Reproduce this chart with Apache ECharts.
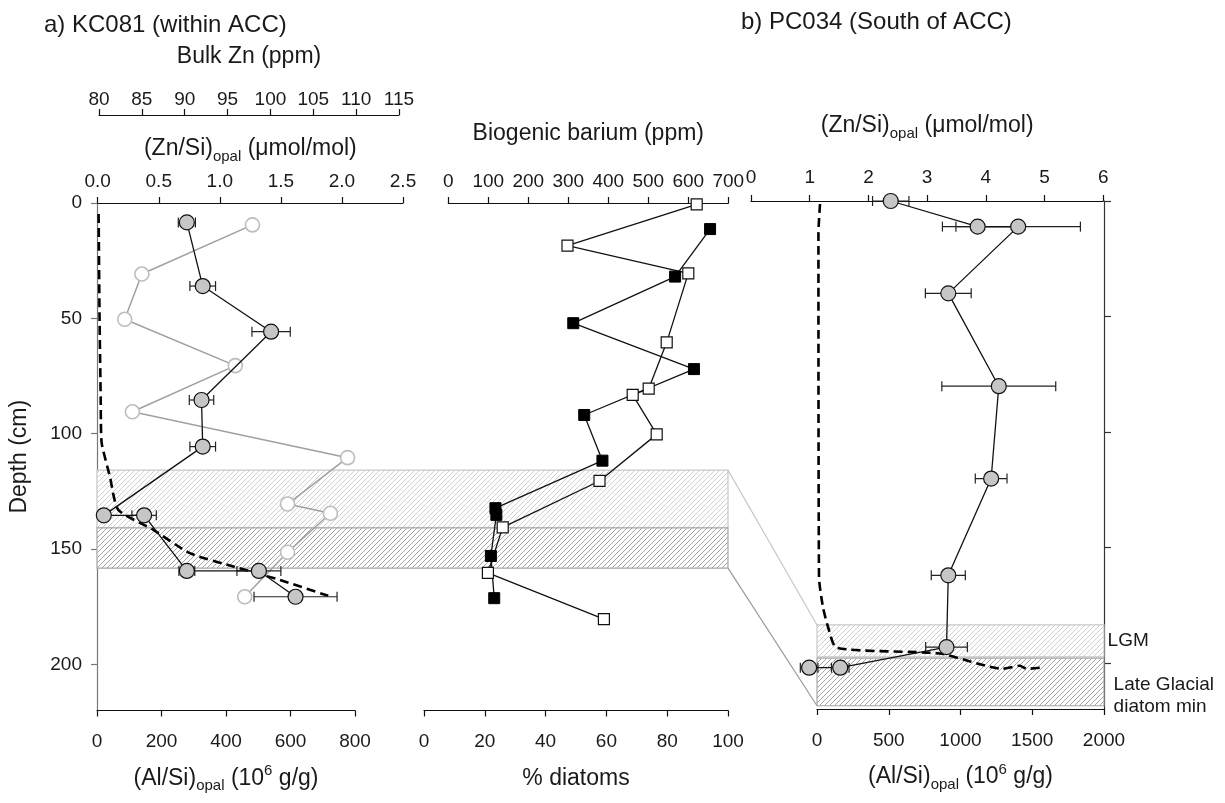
<!DOCTYPE html>
<html><head><meta charset="utf-8">
<script src="https://cdn.jsdelivr.net/npm/echarts@6/dist/echarts.min.js"></script>
<style>html,body{margin:0;padding:0;background:#fff}#c{width:1225px;height:803px}</style>
</head><body><div id="c"></div><script>
// ---------------- DATA ----------------
// a) KC081 (within ACC)
const kcZnSiDepth = [8.4, 36, 55.8, 85.4, 105.6, 135.4, 135.4, 159.5, 159.5, 170.7];
const kcZnSi      = [0.73, 0.86, 1.42, 0.85, 0.86, 0.05, 0.38, 0.73, 1.32, 1.62];
const kcZnSiErr   = [0.07, 0.105, 0.157, 0.1, 0.105, 0.03, 0.1, 0.065, 0.18, 0.34];

const kcBulkZnDepth = [9.5, 30.8, 50.4, 70.5, 90.5, 110.4, 130.5, 134.5, 151.4, 170.7];
const kcBulkZn      = [97.9, 85.0, 83.0, 95.9, 83.9, 109.0, 102.0, 107.0, 102.0, 97.0];

const kcAlSiDepth = [4.8, 50.7, 85.4, 94, 104.2, 118.6, 133, 141.7, 151.8, 157.6, 163.4, 170.3];
const kcAlSi      = [5, 8, 11.5, 12, 14.6, 40, 66, 175, 288, 423, 567, 717];

const kcBaDepth = [0.6, 18.5, 30.5, 60.4, 80.5, 83.2, 100.3, 120.5, 140.6, 160.3, 180.4];
const kcBa      = [621, 298, 600, 546, 501, 461, 521, 378, 136, 99, 389];

const kcDiatomDepth = [11.3, 31.9, 52.1, 72, 91.9, 111.7, 132.3, 135.2, 153, 171.3];
const kcDiatoms     = [94.1, 82.6, 49.1, 88.8, 52.7, 58.7, 23.5, 23.8, 22.0, 23.1];

const kcBands = [[115.8, 140.8], [140.8, 158.3]];

// b) PC034 (South of ACC)
const pcZnSiDepth = [0, 11.1, 11.1, 40, 80.2, 120.2, 162.1, 193.2, 202.1, 202.1];
const pcZnSi      = [2.38, 3.86, 4.55, 3.36, 4.22, 4.09, 3.36, 3.33, 1.52, 0.99];
const pcZnSiErr   = [0.31, 0.6, 1.06, 0.39, 0.97, 0.27, 0.29, 0.355, 0.15, 0.15];

const pcAlSiDepth = [1.3, 13.9, 163, 176, 184.5, 193.5, 196, 202.6, 201.3, 202.6, 202.1];
const pcAlSi      = [21, 10, 14, 42, 77, 137, 857, 1295, 1414, 1462, 1553];

const pcBands = [[183.6, 197.4], [198.0, 218.6]];
const pcBandLabels = ['LGM', 'Late Glacial\ndiatom min'];

// axes: [min, max, interval]
const depthAxis = [0, 220, 50];
const depthTicks = [0, 50, 100, 150, 200];
const kcAlSiAxis = [0, 800, 200];
const kcZnSiAxis = [0, 2.5, 0.5];
const kcBulkZnAxis = [80, 115, 5];
const kcDiatomAxis = [0, 100, 20];
const kcBaAxis = [0, 700, 100];
const pcZnSiAxis = [0, 6, 1];
const pcAlSiAxis = [0, 2000, 500];

// ---------------- STYLE ----------------
const FONT = "'Liberation Sans', Arial, Helvetica, sans-serif";
const TXT = '#1a1a1a';
const TICKFS = 19;
const zip = (xs, ds) => xs.map((v, i) => [v, ds[i]]);
const zipErr = (xs, ds, es) => xs.map((v, i) => [v, ds[i], es[i]]);

function hatch(color) {
  const s = 5, c = document.createElement('canvas');
  c.width = s; c.height = s;
  const g = c.getContext('2d');
  g.fillStyle = '#fff'; g.fillRect(0, 0, s, s);
  g.strokeStyle = color; g.lineWidth = 1;
  g.beginPath();
  g.moveTo(0, s); g.lineTo(s, 0);
  g.moveTo(-s, s); g.lineTo(s, -s);
  g.moveTo(0, 2 * s); g.lineTo(2 * s, 0);
  g.stroke();
  return c;
}
const lightFill = {image: hatch('#cfcfcf'), repeat: 'repeat'};
const darkFill = {image: hatch('#a4a4a4'), repeat: 'repeat'};

const richName = {
  m: {fontSize: 23, fontFamily: FONT, color: TXT, lineHeight: 30},
  s: {fontSize: 15, fontFamily: FONT, color: TXT, lineHeight: 15, verticalAlign: 'bottom'},
  p: {fontSize: 15, fontFamily: FONT, color: TXT, lineHeight: 15, verticalAlign: 'top'}
};
const nameStyle = {fontSize: 23, fontFamily: FONT, color: TXT, lineHeight: 30, rich: richName};
const znSiName = '{m|(Zn/Si)}{s|opal}{m| (μmol/mol)}';
const alSiName = '{m|(Al/Si)}{s|opal}{m| (10}{p|6}{m| g/g)}';

function xAx(gi, pos, r, name, nameGap, margin, extra) {
  return Object.assign({
    gridIndex: gi, type: 'value', position: pos, min: r[0], max: r[1], interval: r[2],
    splitLine: {show: false},
    axisLine: {show: true, onZero: false, lineStyle: {color: '#111', width: 1.2}},
    axisTick: {show: true, length: 6, lineStyle: {color: '#111', width: 1.2}},
    axisLabel: {show: true, margin: margin, color: TXT, fontSize: TICKFS, fontFamily: FONT, formatter: v => String(v)},
    name: name, nameLocation: 'middle', nameGap: nameGap, nameTextStyle: nameStyle
  }, extra || {});
}
function yHidden(gi) {
  return {gridIndex: gi, type: 'value', inverse: true, min: depthAxis[0], max: depthAxis[1], show: false};
}

const grids = [
  {left: 97, top: 203, width: 258, height: 507.5},     // 0 Al/Si KC081
  {left: 97.7, top: 203, width: 305.3, height: 507.5}, // 1 Zn/Si KC081
  {left: 99, top: 203, width: 300, height: 507.5},     // 2 Bulk Zn
  {left: 424, top: 203, width: 304, height: 507.5},    // 3 % diatoms
  {left: 448.3, top: 203, width: 280, height: 507.5},  // 4 Biogenic Ba
  {left: 97, top: 203, width: 631, height: 507.5},     // 5 bands overlay
  {left: 751, top: 201, width: 352.3, height: 508},    // 6 Zn/Si PC034
  {left: 817, top: 201, width: 287, height: 508}       // 7 Al/Si PC034
];

const xAxes = [
  xAx(0, 'bottom', kcAlSiAxis, alSiName, 53, 22),
  xAx(1, 'top', kcZnSiAxis, znSiName, 39, 12, {axisLabel: {show: true, margin: 12, color: TXT, fontSize: TICKFS, fontFamily: FONT, formatter: v => v.toFixed(1)}}),
  xAx(2, 'top', kcBulkZnAxis, 'Bulk Zn (ppm)', 43, 6, {offset: 88}),
  xAx(3, 'bottom', kcDiatomAxis, '% diatoms', 53, 22),
  xAx(4, 'top', kcBaAxis, 'Biogenic barium (ppm)', 54, 12),
  {gridIndex: 5, type: 'value', min: 0, max: 1, show: false},
  xAx(6, 'top', pcZnSiAxis, znSiName, 60, 14),
  xAx(7, 'bottom', pcAlSiAxis, alSiName, 53, 22)
];

const yAxes = grids.map((g, i) => yHidden(i));
yAxes[0] = {
  gridIndex: 0, type: 'value', inverse: true, min: depthAxis[0], max: depthAxis[1], interval: depthAxis[2],
  position: 'left', splitLine: {show: false},
  axisLine: {show: true, onZero: false, lineStyle: {color: '#777', width: 1.2}},
  axisTick: {show: true, length: 6, customValues: depthTicks, lineStyle: {color: '#777', width: 1.2}},
  axisLabel: {show: true, margin: 15, customValues: depthTicks, color: TXT, fontSize: TICKFS, fontFamily: FONT},
  name: 'Depth (cm)', nameLocation: 'middle', nameRotate: 90, nameGap: 66,
  nameTextStyle: {fontSize: 23, fontFamily: FONT, color: TXT}
};
yAxes[7] = {
  gridIndex: 7, type: 'value', inverse: true, min: depthAxis[0], max: depthAxis[1], interval: depthAxis[2],
  position: 'right', splitLine: {show: false},
  axisLine: {show: true, onZero: false, lineStyle: {color: '#333', width: 1.2}},
  axisTick: {show: true, length: 7, customValues: depthTicks, lineStyle: {color: '#333', width: 1.2}},
  axisLabel: {show: false}
};

function errRender(params, api) {
  const x = api.value(0), y = api.value(1), e = api.value(2);
  const a = api.coord([x - e, y]), b = api.coord([x + e, y]);
  const h = 5;
  const st = {stroke: '#222', lineWidth: 1.2, fill: null};
  return {type: 'group', children: [
    {type: 'line', shape: {x1: a[0], y1: a[1], x2: b[0], y2: b[1]}, style: st},
    {type: 'line', shape: {x1: a[0], y1: a[1] - h, x2: a[0], y2: a[1] + h}, style: st},
    {type: 'line', shape: {x1: b[0], y1: b[1] - h, x2: b[0], y2: b[1] + h}, style: st}
  ]};
}

const dashStyle = {color: '#000', width: 2.6, type: [9, 5]};

const series = [
  { // left/middle hatched bands
    type: 'line', xAxisIndex: 5, yAxisIndex: 5, data: [], z: 1, silent: true,
    markArea: {silent: true, data: [
      [{yAxis: kcBands[0][0], itemStyle: {color: lightFill, borderColor: '#c8c8c8', borderWidth: 1.2}}, {yAxis: kcBands[0][1]}],
      [{yAxis: kcBands[1][0], itemStyle: {color: darkFill, borderColor: '#a8a8a8', borderWidth: 1.2}}, {yAxis: kcBands[1][1]}]
    ]}
  },
  { // right hatched bands
    type: 'line', xAxisIndex: 7, yAxisIndex: 7, data: [], z: 1, silent: true,
    markArea: {silent: true, data: [
      [{yAxis: pcBands[0][0], name: pcBandLabels[0],
        label: {show: true, position: 'right', distance: 3, color: TXT, fontSize: 19, fontFamily: FONT},
        itemStyle: {color: lightFill, borderColor: '#c8c8c8', borderWidth: 1.2}}, {yAxis: pcBands[0][1]}],
      [{yAxis: pcBands[1][0], name: pcBandLabels[1],
        label: {show: true, position: 'right', distance: 9, offset: [0, 14], lineHeight: 22, align: 'left', color: TXT, fontSize: 19, fontFamily: FONT},
        itemStyle: {color: darkFill, borderColor: '#a8a8a8', borderWidth: 1.2}}, {yAxis: pcBands[1][1]}]
    ]}
  },
  { // KC081 Al/Si dashed
    type: 'line', xAxisIndex: 0, yAxisIndex: 0, data: zip(kcAlSi, kcAlSiDepth), showSymbol: false,
    smooth: 0.2, lineStyle: dashStyle, z: 3, clip: false, silent: true
  },
  { // Bulk Zn
    type: 'line', xAxisIndex: 2, yAxisIndex: 2, data: zip(kcBulkZn, kcBulkZnDepth),
    symbol: 'circle', symbolSize: 14, clip: false, silent: true,
    itemStyle: {color: '#fff', borderColor: '#bdbdbd', borderWidth: 1.6},
    lineStyle: {color: '#a0a0a0', width: 1.5}, z: 3
  },
  { // KC081 Zn/Si error bars
    type: 'custom', xAxisIndex: 1, yAxisIndex: 1, data: zipErr(kcZnSi, kcZnSiDepth, kcZnSiErr),
    encode: {x: 0, y: 1}, renderItem: errRender, z: 4, silent: true
  },
  { // KC081 Zn/Si
    type: 'line', xAxisIndex: 1, yAxisIndex: 1, data: zip(kcZnSi, kcZnSiDepth),
    symbol: 'circle', symbolSize: 15, clip: false, silent: true,
    itemStyle: {color: '#c6c6c6', borderColor: '#111', borderWidth: 1.2},
    lineStyle: {color: '#111', width: 1.3}, z: 5
  },
  { // Biogenic barium (open squares)
    type: 'line', xAxisIndex: 4, yAxisIndex: 4, data: zip(kcBa, kcBaDepth),
    symbol: 'rect', symbolSize: 11, clip: false, silent: true,
    itemStyle: {color: '#fff', borderColor: '#111', borderWidth: 1.2},
    lineStyle: {color: '#111', width: 1.3}, z: 5
  },
  { // % diatoms (filled squares)
    type: 'line', xAxisIndex: 3, yAxisIndex: 3, data: zip(kcDiatoms, kcDiatomDepth),
    symbol: 'rect', symbolSize: 11, clip: false, silent: true,
    itemStyle: {color: '#000', borderColor: '#000', borderWidth: 1},
    lineStyle: {color: '#111', width: 1.3}, z: 5
  },
  { // PC034 Al/Si dashed
    type: 'line', xAxisIndex: 7, yAxisIndex: 7, data: zip(pcAlSi, pcAlSiDepth), showSymbol: false,
    smooth: 0.2, lineStyle: dashStyle, z: 3, clip: false, silent: true
  },
  { // PC034 Zn/Si error bars
    type: 'custom', xAxisIndex: 6, yAxisIndex: 6, data: zipErr(pcZnSi, pcZnSiDepth, pcZnSiErr),
    encode: {x: 0, y: 1}, renderItem: errRender, z: 4, silent: true
  },
  { // PC034 Zn/Si
    type: 'line', xAxisIndex: 6, yAxisIndex: 6, data: zip(pcZnSi, pcZnSiDepth),
    symbol: 'circle', symbolSize: 15, clip: false, silent: true,
    itemStyle: {color: '#c6c6c6', borderColor: '#111', borderWidth: 1.2},
    lineStyle: {color: '#111', width: 1.3}, z: 5
  }
];

const chart = echarts.init(document.getElementById('c'), null, {renderer: 'canvas'});
chart.setOption({
  backgroundColor: '#fff',
  animation: false,
  textStyle: {fontFamily: FONT},
  grid: grids,
  xAxis: xAxes,
  yAxis: yAxes,
  series: series
});

// connectors between the band zones and panel titles
const pA = chart.convertToPixel({gridIndex: 5}, [1, kcBands[0][0]]);
const pB = chart.convertToPixel({gridIndex: 7}, [pcAlSiAxis[0], pcBands[0][0]]);
const pC = chart.convertToPixel({gridIndex: 5}, [1, kcBands[1][1]]);
const pD = chart.convertToPixel({gridIndex: 7}, [pcAlSiAxis[0], pcBands[1][1]]);
chart.setOption({
  graphic: {elements: [
    {type: 'line', shape: {x1: pA[0], y1: pA[1], x2: pB[0], y2: pB[1]}, style: {stroke: '#c8c8c8', lineWidth: 1.2}, z: 1},
    {type: 'line', shape: {x1: pC[0], y1: pC[1], x2: pD[0], y2: pD[1]}, style: {stroke: '#999', lineWidth: 1.2}, z: 1},
    {type: 'text', x: 44, y: 25, style: {text: 'a) KC081 (within ACC)', fontSize: 24, fontFamily: FONT, fill: TXT, align: 'left', verticalAlign: 'middle'}},
    {type: 'text', x: 741, y: 22, style: {text: 'b) PC034 (South of ACC)', fontSize: 24, fontFamily: FONT, fill: TXT, align: 'left', verticalAlign: 'middle'}}
  ]}
});
</script></body></html>
